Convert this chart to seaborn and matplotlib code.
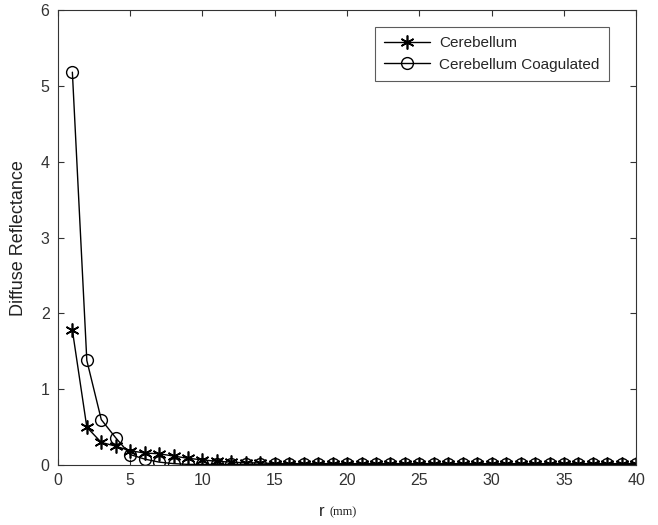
import numpy as np
import pandas as pd
import matplotlib
matplotlib.use("Agg")
import matplotlib.pyplot as plt
import seaborn as sns

r = list(range(1, 41))
cerebellum = [1.78, 0.50, 0.30, 0.25, 0.19, 0.16, 0.15, 0.12, 0.09, 0.07,
              0.05, 0.04, 0.03, 0.03, 0.02, 0.02, 0.02, 0.02, 0.02, 0.02,
              0.02, 0.02, 0.02, 0.02, 0.02, 0.02, 0.02, 0.02, 0.02, 0.02,
              0.02, 0.02, 0.02, 0.02, 0.02, 0.02, 0.02, 0.02, 0.02, 0.02]
coagulated = [5.18, 1.38, 0.60, 0.36, 0.14, 0.08, 0.04, 0.02, 0.01, 0.01,
              0.01, 0.01, 0.01, 0.01, 0.01, 0.01, 0.01, 0.01, 0.01, 0.01,
              0.01, 0.01, 0.01, 0.01, 0.01, 0.01, 0.01, 0.01, 0.01, 0.01,
              0.01, 0.01, 0.01, 0.01, 0.01, 0.01, 0.01, 0.01, 0.01, 0.01]
series_names = ["Cerebellum", "Cerebellum Coagulated"]

sns.set_style("white")
plt.rcParams["font.family"] = ["Liberation Sans", "DejaVu Sans"]

fig = plt.figure(figsize=(6.58, 5.25), dpi=100)
ax = fig.add_axes([0.088, 0.114, 0.879, 0.867])

sns.lineplot(x=r, y=cerebellum, ax=ax, color="black", marker=(6, 2, 0),
             markersize=10, markeredgecolor="black", markeredgewidth=1.2,
             linewidth=1.0, label=series_names[0])
sns.lineplot(x=r, y=coagulated, ax=ax, color="black", marker="o",
             markersize=8.5, markerfacecolor="none", markeredgecolor="black",
             markeredgewidth=1.0, linewidth=1.0, label=series_names[1])

ax.set_xlim(0, 40)
ax.set_ylim(0, 6)
ax.set_xticks(range(0, 41, 5))
ax.set_yticks(range(0, 7))
ax.tick_params(axis="both", direction="in", length=4, labelsize=11.5,
               colors="#333333", top=True, right=True, bottom=True, left=True,
               pad=6)
for s in ax.spines.values():
    s.set_color("#333333")
    s.set_linewidth(0.8)

ax.set_ylabel("Diffuse Reflectance", fontsize=13, color="#222222", labelpad=10)
ax.set_xlabel("")
fig.text(0.5, 0.018, "r ", fontsize=12, ha="right", color="#222222")
fig.text(0.5, 0.018, "(mm)", fontsize=9, ha="left", color="#222222",
         family=["Liberation Serif", "DejaVu Serif"])

leg = ax.legend(loc="upper right", bbox_to_anchor=(0.952, 0.963), borderaxespad=0,
                fontsize=11, frameon=True, fancybox=False, edgecolor="#333333",
                handlelength=3.0, borderpad=0.6, labelspacing=0.5,
                handletextpad=0.6)
leg.get_frame().set_linewidth(0.8)
for h in leg.legend_handles:
    h.set_markerfacecolor("none")
    h.set_markeredgecolor("black")
    h.set_color("black")

fig.savefig("out.png", dpi=100)
